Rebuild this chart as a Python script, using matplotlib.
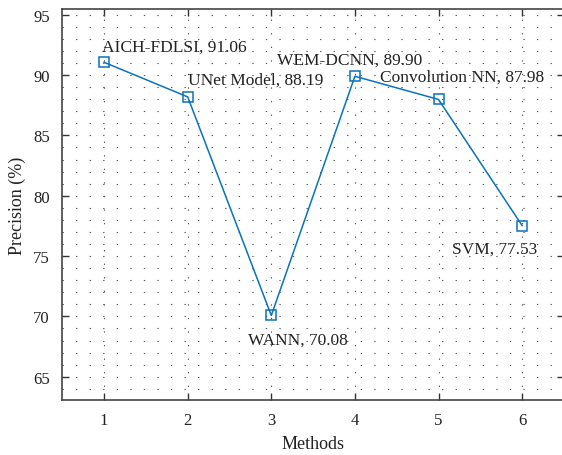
import numpy as np
import matplotlib.pyplot as plt
from matplotlib.ticker import MultipleLocator

# data
methods = [1, 2, 3, 4, 5, 6]
names = ["AICH-FDLSI", "UNet Model", "WANN", "WEM-DCNN", "Convolution NN", "SVM"]
precision = [91.06, 88.19, 70.08, 89.90, 87.98, 77.53]

# where each label sits (data coords)
label_pos = [(0.98, 92.35), (2.0, 89.65), (2.72, 68.05),
             (3.07, 91.3), (4.3, 89.85), (5.16, 75.6)]

plt.rcParams['font.family'] = ['Liberation Serif', 'DejaVu Serif']

fig = plt.figure(figsize=(5.62, 4.56), dpi=100)
ax = fig.add_axes([62.3 / 562, 55.3 / 456, 501.6 / 562, 390.4 / 456])

blue = '#0a72bd'
ax.plot(methods, precision, color=blue, lw=1.1, marker='s', markersize=6.5,
        markerfacecolor='none', markeredgecolor=blue, markeredgewidth=1.1, zorder=3)

for (x, y), n, v in zip(label_pos, names, precision):
    ax.text(x, y, "%s, %.2f" % (n, v), fontsize=12.5, color='#222222',
            va='center', ha='left', zorder=4)

ax.set_xlim(0.5, 6.5)
ax.set_ylim(63.1, 95.45)
ax.set_xticks(methods)
ax.set_yticks(np.arange(65, 96, 5))
ax.yaxis.set_minor_locator(MultipleLocator(1))

dots = (0, (1.2, 11))
ax.grid(True, axis='x', which='major', color='#555555', lw=0.8, linestyle=dots)
ax.grid(True, axis='y', which='both', color='#555555', lw=0.8, linestyle=dots)

ax.tick_params(which='major', direction='in', length=5, width=1, top=True,
               right=True, labelsize=12, colors='#333333', labelcolor='#222222', pad=9)
ax.tick_params(which='minor', length=0)
for s in ax.spines.values():
    s.set_color('#444444')
    s.set_linewidth(1.2)

ax.set_xlabel('Methods', fontsize=13, color='#222222', labelpad=5)
ax.set_ylabel('Precision (%)', fontsize=13, color='#222222', labelpad=5)

fig.savefig('out.png', dpi=100)
